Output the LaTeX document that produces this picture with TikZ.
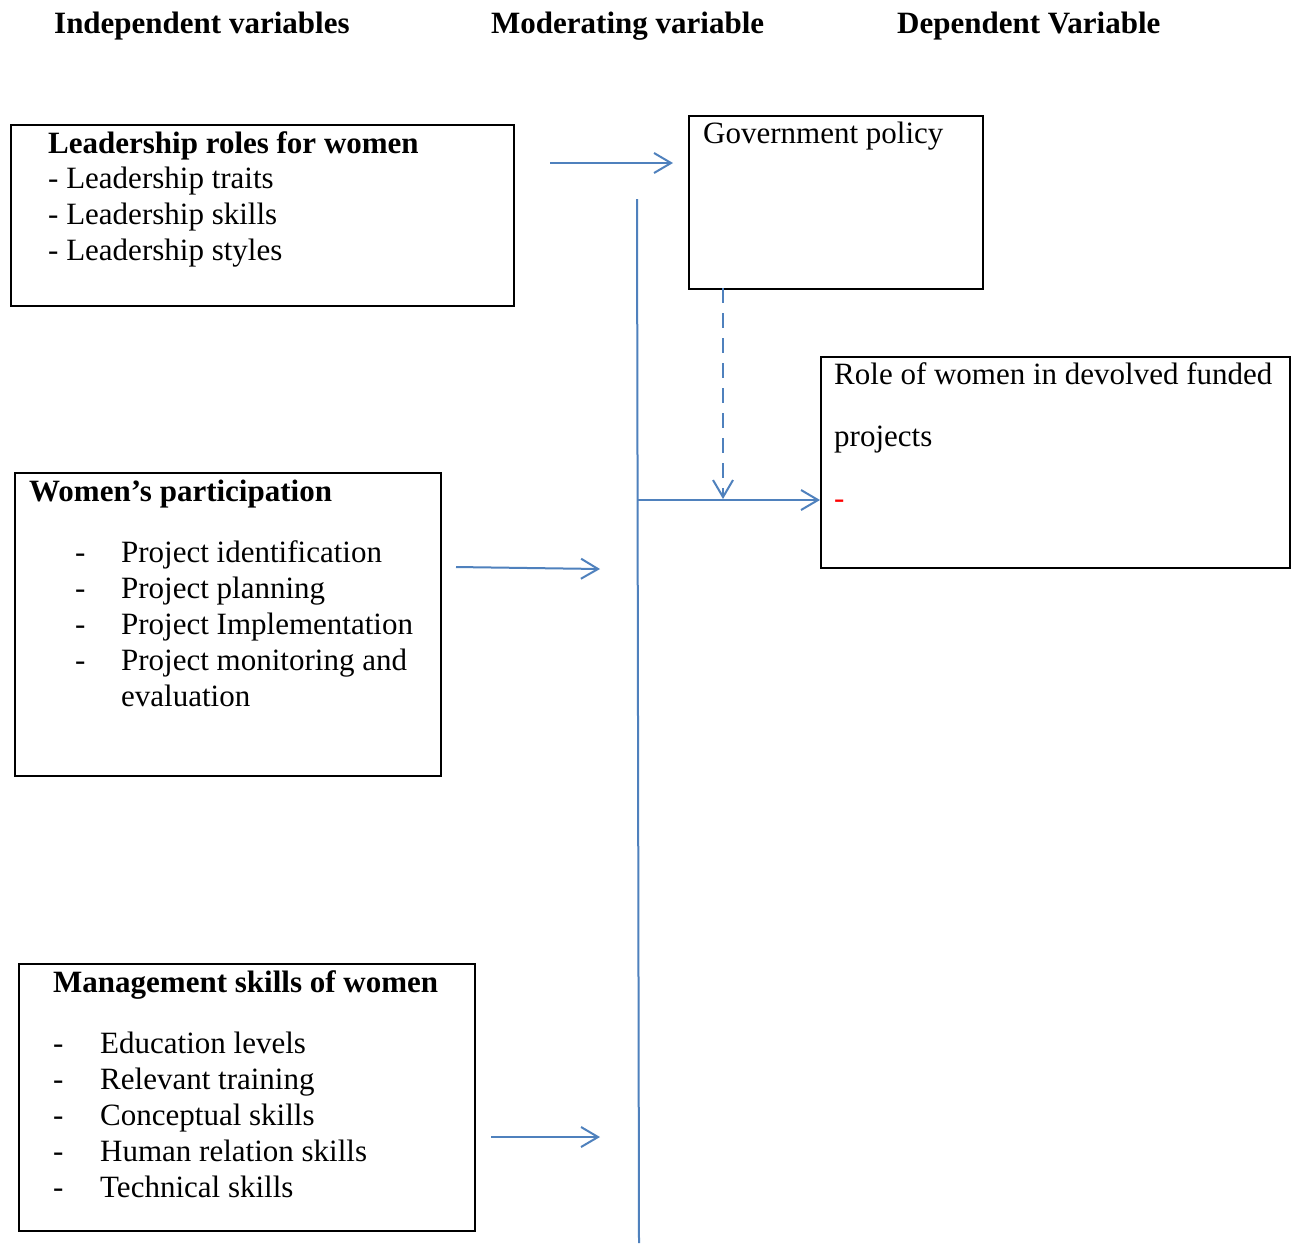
\documentclass[tikz,border=0pt]{standalone}
\usepackage{fontspec}
\setmainfont{Liberation Serif}
\usetikzlibrary{arrows.meta}
\definecolor{lineblue}{RGB}{79,129,189}
\begin{document}
\begin{tikzpicture}[x=1pt,y=-1pt,
  box/.style={draw=black,line width=2pt,inner sep=0pt,anchor=north west},
  txt/.style={inner sep=0pt,anchor=base west,font=\fontsize{31}{36}\selectfont},
  head/.style={txt,font=\fontsize{31}{36}\selectfont\bfseries},
  conn/.style={draw=lineblue,line width=2pt},
  arr/.style={conn,-{Straight Barb[length=17pt,width=20pt]}}]
\useasboundingbox (0,0) rectangle (1297,1243);
\fill[white] (0,0) rectangle (1297,1243);
% headers
\node[head] (h1) at (54,33) {Independent variables};
\node[head] (h2) at (491,33) {Moderating variable};
\node[head] (h3) at (897,33) {Dependent Variable};
% boxes
\node[box,minimum width=503pt,minimum height=181pt] (box1) at (10,124) {};
\node[box,minimum width=294pt,minimum height=173pt] (gov) at (688,115) {};
\node[box,minimum width=469pt,minimum height=211pt] (role) at (820,356) {};
\node[box,minimum width=426pt,minimum height=303pt] (box2) at (14,472) {};
\node[box,minimum width=456pt,minimum height=267pt] (box3) at (18,963) {};
% box texts
\node[txt] (t1) at (48,153) {\begin{tabular}[t]{@{}l@{}}\textbf{Leadership roles for women}\\[-1pt]
- Leadership traits\\ - Leadership skills\\ - Leadership styles\end{tabular}};
\node[txt] (tg) at (703,143) {Government policy};
\node[txt] (tr) at (834,384) {\begin{tabular}[t]{@{}l@{}}Role of women in devolved funded\\[26pt]
projects\\[26pt] \textcolor{red}{-}\end{tabular}};
\node[head] (t2h) at (29,501) {Women’s participation};
\node[txt] (t2) at (75,562) {\begin{tabular}[t]{@{}p{46pt}@{}l@{}}
- & Project identification\\ - & Project planning\\ - & Project Implementation\\
- & Project monitoring and\\ & evaluation\end{tabular}};
\node[head] (t3h) at (53,992) {Management skills of women};
\node[txt] (t3) at (53,1053) {\begin{tabular}[t]{@{}p{47pt}@{}l@{}}
- & Education levels\\ - & Relevant training\\ - & Conceptual skills\\
- & Human relation skills\\ - & Technical skills\end{tabular}};
% connector coordinates
\coordinate (a1s) at (550,163);
\coordinate (a1e) at (673,163);
\coordinate (a2s) at (456,567);
\coordinate (a2e) at (600,569);
\coordinate (a3s) at (491,1137);
\coordinate (a3e) at (600,1137);
\coordinate (vtop) at (637,199);
\coordinate (vbot) at (639,1243);
\coordinate (vjoin) at (637.5,500);
\coordinate (dtop) at (723,288);
\coordinate (dend) at (723,499);
% connectors
\draw[arr] (a1s) -- (a1e);
\draw[arr] (a2s) -- (a2e);
\draw[arr] (a3s) -- (a3e);
\draw[conn] (vtop) -- (vbot);
\draw[arr] (vjoin) -- (role.west |- vjoin);
\draw[arr,dash pattern=on 15pt off 10pt] (dtop) -- (dend);
\end{tikzpicture}
\end{document}
